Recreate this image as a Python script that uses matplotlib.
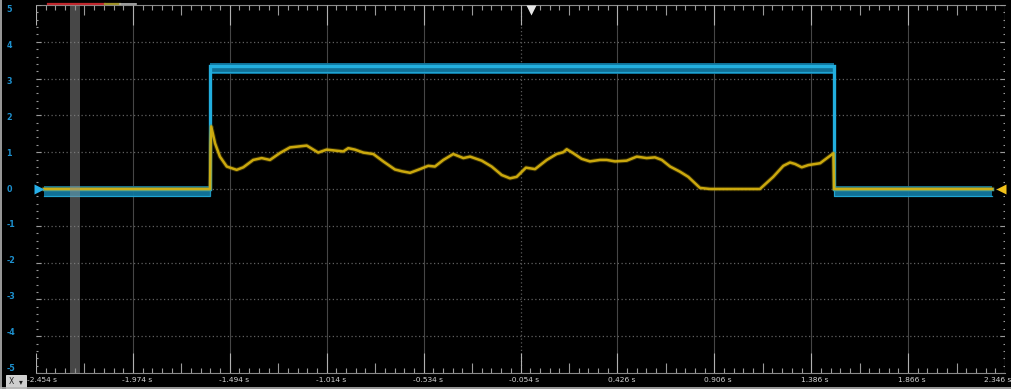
import numpy as np
import matplotlib
matplotlib.use("Agg")
import matplotlib.pyplot as plt
from matplotlib.transforms import blended_transform_factory
from matplotlib.patches import Rectangle

# ---- scope settings -------------------------------------------------------
x_start = -2.454          # left edge of the record (s)
x_div = 0.48              # seconds per horizontal division
n_xdiv = 10
y_min, y_max = -5, 5
x_tick_labels = ["-2.454 s", "-1.974 s", "-1.494 s", "-1.014 s", "-0.534 s",
                 "-0.054 s", "0.426 s", "0.906 s", "1.386 s", "1.866 s", "2.346 s"]
y_tick_values = [5, 4, 3, 2, 1, 0, -1, -2, -3, -4, -5]
y_tick_labels = ["5", "4", "3", "2", "1", "0", "-1", "-2", "-3", "-4", "-5"]

trigger_t = 0.0
cursor_band = (-2.286, -2.236)

# ---- channel 1 (cyan): digital enable pulse -------------------------------
ch1_t = [-2.414, -1.592, -1.592, 1.497, 1.497, 2.282]
ch1_v = [-0.08, -0.08, 3.27, 3.27, -0.08, -0.08]
ch1_spread = 0.15

# ---- channel 2 (yellow): analog response ----------------------------------
ch2_t = [-2.414, -1.592, -1.589, -1.586, -1.567, -1.543, -1.509, -1.460, -1.427,
         -1.378, -1.336, -1.295, -1.245, -1.196, -1.146, -1.113, -1.056, -1.014,
         -0.965, -0.932, -0.907, -0.874, -0.833, -0.783, -0.734, -0.676, -0.640,
         -0.601, -0.552, -0.511, -0.478, -0.436, -0.387, -0.337, -0.304, -0.246,
         -0.197, -0.147, -0.106, -0.073, -0.027, 0.018, 0.076, 0.125, 0.158,
         0.175, 0.208, 0.249, 0.290, 0.340, 0.373, 0.414, 0.472, 0.522, 0.571,
         0.612, 0.646, 0.687, 0.736, 0.777, 0.835, 0.885, 1.132, 1.198, 1.248,
         1.281, 1.306, 1.339, 1.372, 1.430, 1.496, 1.499, 2.282]
ch2_v = [0.0, 0.0, 1.20, 1.70, 1.24, 0.88, 0.61, 0.52, 0.59,
         0.79, 0.84, 0.79, 0.98, 1.13, 1.16, 1.18, 0.99, 1.07,
         1.04, 1.02, 1.11, 1.07, 0.99, 0.95, 0.75, 0.53, 0.48,
         0.44, 0.54, 0.63, 0.61, 0.79, 0.95, 0.84, 0.88, 0.77,
         0.61, 0.38, 0.29, 0.33, 0.58, 0.54, 0.79, 0.95, 1.00,
         1.08, 0.97, 0.82, 0.75, 0.79, 0.79, 0.75, 0.77, 0.88, 0.84,
         0.86, 0.79, 0.61, 0.47, 0.33, 0.03, 0.0, 0.0, 0.33, 0.63,
         0.72, 0.68, 0.59, 0.65, 0.70, 0.97, 0.0, 0.0]

CYAN = "#22aede"
CYAN_BAND = "#11779f"
YELLOW = "#d4b00e"
GRID = "#464646"
TICK = "#9a9a9a"

W, H = 1012, 389
fig = plt.figure(figsize=(W / 100, H / 100), dpi=100, facecolor="black")
ax_l, ax_r, ax_t, ax_b = 36, 1005, 5, 373
ax = fig.add_axes([ax_l / W, 1 - ax_b / H, (ax_r - ax_l) / W, (ax_b - ax_t) / H])
ax.set_facecolor("black")
x_end = x_start + n_xdiv * x_div
ax.set_xlim(x_start, x_end)
ax.set_ylim(y_min, y_max)
ax.set_xticks([])
ax.set_yticks([])
for side in ("left", "right"):
    ax.spines[side].set_visible(False)
for side in ("top", "bottom"):
    ax.spines[side].set_color("#8a8a8a")
    ax.spines[side].set_linewidth(0.8)

px = 72 / 100  # points per pixel
bx = blended_transform_factory(ax.transData, ax.transAxes)
by = blended_transform_factory(ax.transAxes, ax.transData)

# graticule
x_grid = x_start + x_div * np.arange(n_xdiv + 1)
for i, xg in enumerate(x_grid[1:-1], start=1):
    if i == n_xdiv // 2:
        ax.axvline(xg, color="#5a5a5a", lw=0.9, ls=(0, (1, 2)), zorder=0)
    else:
        ax.axvline(xg, color=GRID, lw=0.8, zorder=0)
for yg in range(y_min + 1, y_max):
    ax.axhline(yg, color="#606060", lw=0.9, ls=(0, (1, 2)), zorder=0)

# edge ticks on top and bottom: minor every 1/10 div, mid at half div, major at div
minor_x = x_start + x_div / 10 * np.arange(n_xdiv * 10 + 1)
h = ax_b - ax_t
for k, xm in enumerate(minor_x):
    if k % 10 == 0:
        L, c = 20, "#b0b0b0"
    elif k % 5 == 0:
        L, c = 10, TICK
    else:
        L, c = 5, TICK
    ax.vlines(xm, 0, L / h, transform=bx, color=c, lw=0.8, zorder=3)
    ax.vlines(xm, 1 - L / h, 1, transform=bx, color=c, lw=0.8, zorder=3)

# edge ticks on left and right
w = ax_r - ax_l
for yv in np.arange(y_min, y_max + 0.001, 0.2):
    r = round(yv * 10)
    L = 5 if r % 5 == 0 else 2
    ax.hlines(yv, 0, L / w, transform=by, color=TICK, lw=0.8, zorder=3)
    ax.hlines(yv, 1 - L / w, 1, transform=by, color=TICK, lw=0.8, zorder=3)

# channel 1 trace with persistence band
t1 = np.array(ch1_t)
v1 = np.array(ch1_v)
ax.fill_between(t1, v1 - ch1_spread, v1 + ch1_spread, color=CYAN_BAND, alpha=0.95,
                lw=0, zorder=2)
ax.plot(t1, v1 + 0.07, color=CYAN, lw=2.4, zorder=3, solid_joinstyle="miter")
ax.plot(t1, v1 - 0.10, color=CYAN, lw=0.9, alpha=0.85, zorder=3)

# channel 2 trace with glow
ax.plot(ch2_t, ch2_v, color="#9a8008", lw=3.2, alpha=0.35, zorder=4)
ax.plot(ch2_t, ch2_v, color=YELLOW, lw=1.8, alpha=0.95, zorder=5)

# cursor band
ax.axvspan(*cursor_band, color="#8e8e8e", alpha=0.5, lw=0, zorder=6)

# ground markers and trigger marker
ax.plot([0.003], [0], marker=">", ms=9 * px * 1.1, color="#27b0ea", mec="none",
        transform=by, clip_on=False, zorder=7)
ax.plot([0.996], [0], marker="<", ms=9 * px * 1.1, color="#f2c21a", mec="none",
        transform=by, clip_on=False, zorder=7)
ax.plot([trigger_t], [1 - 4.5 / h], marker="v", ms=9 * px * 1.1, color="#e6e6e6",
        mec="none", transform=bx, clip_on=False, zorder=7)

# vertical scale labels (slightly compressed so the end labels stay inside)
ylab_tr = blended_transform_factory(fig.transFigure, ax.transData)
for yv, lab in zip(y_tick_values, y_tick_labels):
    fig.text(6.5 / W, yv * 0.974, lab, transform=ylab_tr,
             color="#1d90ce", fontsize=5.8, fontweight="bold", ha="left", va="center")

# time labels
for i, (xg, lab) in enumerate(zip(x_grid, x_tick_labels)):
    if i == len(x_grid) - 1:
        fig.text(1011 / W, 1 - 379.5 / H, lab, color="#d4d4d4", fontsize=5.4,
                 ha="right", va="center")
        continue
    xpix = ax_l + (xg - x_start) / (x_end - x_start) * w + (6 if i == 0 else 4)
    fig.text(xpix / W, 1 - 379.5 / H, lab, color="#d4d4d4", fontsize=5.4,
             ha="center", va="center")

# overview bar at top left
fig.add_artist(plt.Line2D([48 / W, 105 / W], [1 - 4 / H] * 2, color="#c0272d", lw=1.6))
fig.add_artist(plt.Line2D([105 / W, 120 / W], [1 - 4 / H] * 2, color="#a0922a", lw=1.6))
fig.add_artist(plt.Line2D([120 / W, 136 / W], [1 - 4 / H] * 2, color="#b8b8b8", lw=1.2))

# axis selector box
fig.add_artist(Rectangle((6 / W, 1 - 388 / H), 20 / W, 13 / H, transform=fig.transFigure,
                         facecolor="#cfcfcf", edgecolor="#e8e8e8", lw=0.6))
fig.text(11.5 / W, 1 - 381.5 / H, "X", color="#202020", fontsize=5.5, ha="center", va="center")
fig.text(20.5 / W, 1 - 381.5 / H, "▾", color="#202020", fontsize=5.5, ha="center", va="center")

# panel frame
fig.add_artist(plt.Line2D([0.8 / W, 0.8 / W], [0, 1], color="#b4b4b4", lw=1.2))
fig.add_artist(plt.Line2D([0, 1], [1.2 / H, 1.2 / H], color="#b4b4b4", lw=1.2))

fig.savefig("out.png", dpi=100, facecolor="black")
